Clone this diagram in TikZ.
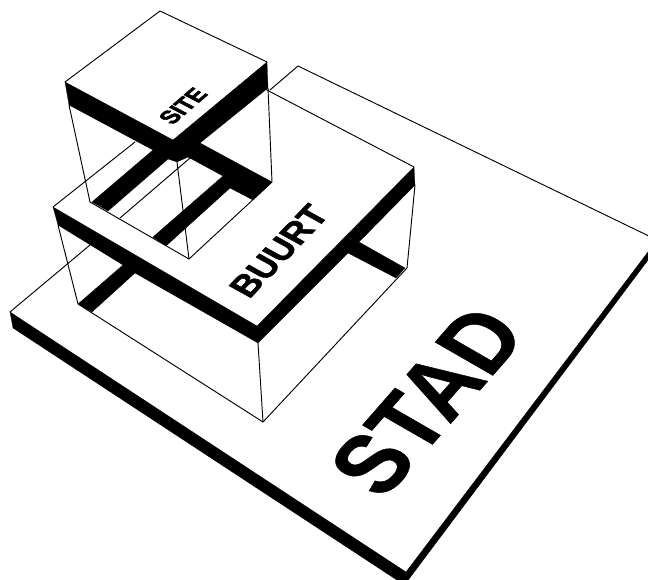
\documentclass[tikz,border=0pt]{standalone}
\usepackage{fontspec}
\setmainfont{Liberation Sans}
\tikzset{
  thinline/.style={line width=0.7pt,line join=round,line cap=round},
  band/.style={fill=black,draw=black,line width=0.2pt,line join=round},
  stadtext/.style={font=\bfseries\addfontfeature{FakeBold=0.6}\fontsize{74}{74}\selectfont,transform shape,inner sep=0pt},
  buurttext/.style={font=\bfseries\addfontfeature{FakeBold=1.5}\fontsize{28}{28}\selectfont,transform shape,inner sep=0pt},
  sitetext/.style={font=\bfseries\addfontfeature{FakeBold=2.5}\fontsize{17}{17}\selectfont,transform shape,inner sep=0pt}
}
\begin{document}
\begin{tikzpicture}[x=0.75pt,y=-0.75pt]
  \useasboundingbox (0,0) rectangle (648,580);
  \clip (0,0) rectangle (648,580);
  % plate
  \coordinate (PL) at (10,312);
  \coordinate (PT) at (298,66);
  \coordinate (PR) at (657,240);
  \coordinate (PB) at (406,572);
  \fill[band] (PL) -- (PB) -- (PR) -- (660,244) -- (404.5,585) -- (13,328) -- cycle;
  \draw[thinline] (PL) -- (90,245);
  \draw[thinline] (120,218) -- (190,158);
  \draw[thinline] (270,90) -- (PT) -- (PR);
  % middle block
  \coordinate (BL) at (53,207);
  \coordinate (BF) at (257,326);
  \coordinate (BR) at (414,167);
  \fill[band] (BL) -- (BF) -- (BR) -- (415,185) -- (359,242) -- (405,268) -- (396,278)
    -- (348,253) -- (258,343) -- (135,273) -- (92,312) -- (78,304) -- (123,265) -- (58,225) -- cycle;
  \draw[thinline] (135,142) -- (BL);
  \draw[thinline] (263,88) -- (BR);
  \draw[thinline] (58,225) -- (78,304) -- (263,422) -- (407,268) -- (415,185);
  \draw[thinline] (258,343) -- (263,422);
  % top block
  \coordinate (SL) at (65,82);
  \coordinate (ST) at (160,11);
  \coordinate (SR) at (267,62);
  \coordinate (SF) at (173,140);
  \fill[band] (SL) -- (SF) -- (SR) -- (268,88) -- (200,143) -- (272,182) -- (253,200) -- (230,188)
    -- (166,246) -- (153,237) -- (223,176) -- (188,157) -- (177,162) -- (168,159) -- (108,211)
    -- (92,202) -- (153,150) -- (69,105) -- cycle;
  \draw[thinline] (SL) -- (ST) -- (SR);
  \draw[thinline] (69,105) -- (90,202) -- (189,259) -- (272,182) -- (268,88);
  \draw[thinline] (177,162) -- (189,259);
  % labels
  \begin{scope}[cm={.56,.64,-.85,.49,(427,401)}]
    \node[stadtext] (stad) at (0,0) {STAD};
  \end{scope}
  \begin{scope}[cm={.62,.65,-.85,.47,(279,251)}]
    \node[buurttext] (buurt) at (0,0) {BUURT};
  \end{scope}
  \begin{scope}[cm={.72,.62,-.95,.5,(183,106)}]
    \node[sitetext] (site) at (0,0) {SITE};
  \end{scope}
\end{tikzpicture}
\end{document}
